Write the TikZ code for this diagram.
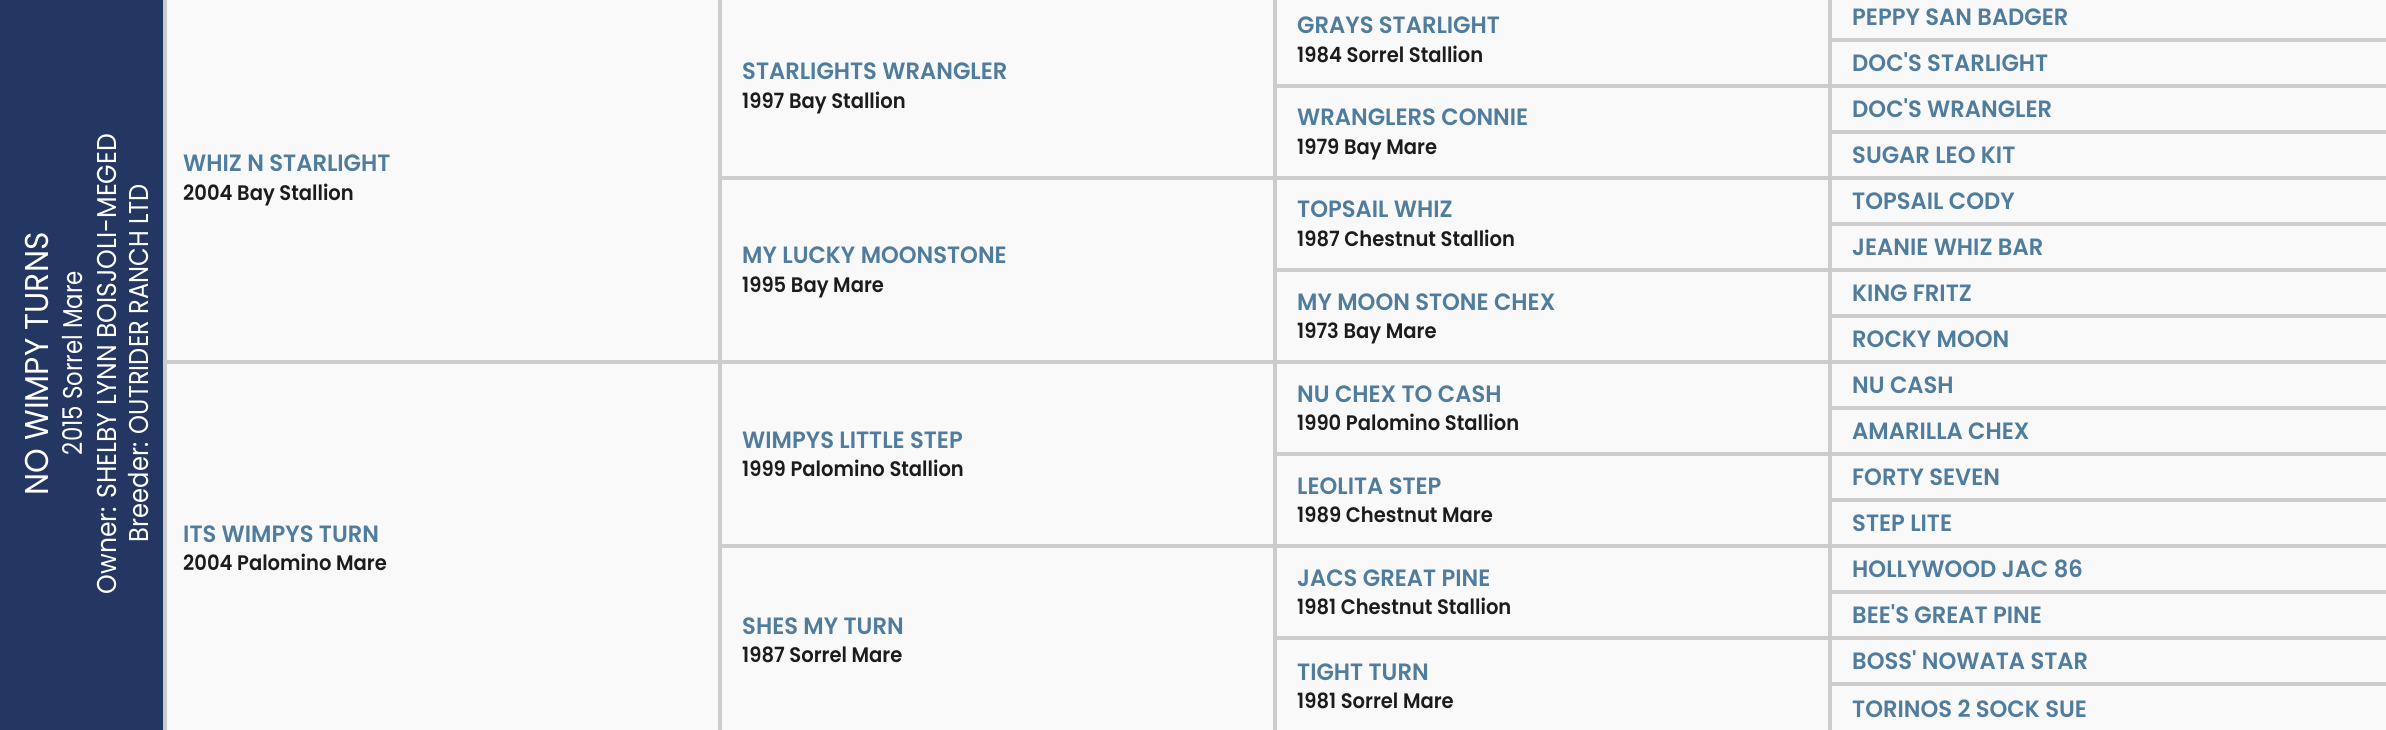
\documentclass[tikz,border=0pt]{standalone}
\usepackage{fontspec}
\usepackage{graphicx}
\setmainfont{Poppins}
\newfontfamily\pnamefont{Poppins SemiBold}[FakeStretch=0.96]
\newfontfamily\pdetfont{Poppins SemiBold}[FakeStretch=0.93]
\newfontfamily\ppanelfont{Poppins}
\usetikzlibrary{calc}
\definecolor{navy}{HTML}{243763}
\definecolor{namec}{HTML}{507D9E}
\definecolor{detc}{HTML}{1C1C1C}
\definecolor{gridc}{HTML}{CCCCCC}
\definecolor{cellbg}{HTML}{F9F9F9}
\tikzset{
  cellbox/.style={draw=gridc, line width=4pt, fill=cellbg, inner sep=0pt, outer sep=0pt},
  hname/.style={inner sep=0pt, anchor=base west, text=namec, font=\pnamefont\fontsize{23.6}{26}\selectfont},
  hdet/.style={inner sep=0pt, anchor=base west, text=detc, font=\pdetfont\fontsize{21}{24}\selectfont},
  ptitle/.style={inner sep=0pt, anchor=base, rotate=90, text=white, font=\ppanelfont\fontsize{33}{38}\selectfont},
  pline/.style={inner sep=0pt, anchor=base, rotate=90, text=white, font=\ppanelfont\fontsize{27.2}{31}\selectfont},
}
\newcommand{\pcgeom}[3]{%
  \pgfmathsetmacro{\pcxl}{165+555*(#1-1)}%
  \pgfmathsetmacro{\pcxr}{#1==4 ? 2400 : \pcxl+555}%
  \pgfmathsetmacro{\pcyt}{-6+46*#2}%
  \pgfmathsetmacro{\pcyb}{#3==16 ? 734 : -6+46*#3}%
  \pgfmathsetmacro{\pccw}{\pcxr-\pcxl}%
  \pgfmathsetmacro{\pcch}{\pcyb-\pcyt}%
  \pgfmathsetmacro{\pccx}{(\pcxl+\pcxr)/2}%
  \pgfmathsetmacro{\pccy}{(\pcyt+\pcyb)/2}%
  \pgfmathsetmacro{\pctx}{#1==1 ? 18 : 22}%
}
% #1 node name, #2 column, #3 first row, #4 last row, #5 horse, #6 details
\newcommand{\pedcell}[6]{%
  \pcgeom{#2}{#3}{#4}%
  \node[cellbox, minimum width=\pccw pt, minimum height=\pcch pt] (#1) at (\pccx,\pccy) {};
  \node[hname] (#1n) at ($(#1.west)+(\pctx,-6)$) {#5};
  \node[hdet] (#1d) at ($(#1.west)+(\pctx,22.5)$) {#6};
}
\newcommand{\leafcell}[4]{%
  \pcgeom{4}{#2}{#3}%
  \node[cellbox, minimum width=\pccw pt, minimum height=\pcch pt] (#1) at (\pccx,\pccy) {};
  \node[hname] (#1n) at ($(#1.west)+(\pctx,8.3)$) {#4};
}
\begin{document}
\begin{tikzpicture}[x=1pt, y=-1pt]
\useasboundingbox (0,0) rectangle (2386,730);
\clip (0,0) rectangle (2386,730);
% generation 1
\pedcell{a1}{1}{0}{8}{WHIZ N STARLIGHT}{2004 Bay Stallion}
\pedcell{a2}{1}{8}{16}{ITS WIMPYS TURN}{2004 Palomino Mare}
% generation 2
\pedcell{b1}{2}{0}{4}{STARLIGHTS WRANGLER}{1997 Bay Stallion}
\pedcell{b2}{2}{4}{8}{MY LUCKY MOONSTONE}{1995 Bay Mare}
\pedcell{b3}{2}{8}{12}{WIMPYS LITTLE STEP}{1999 Palomino Stallion}
\pedcell{b4}{2}{12}{16}{SHES MY TURN}{1987 Sorrel Mare}
% generation 3
\pedcell{c1}{3}{0}{2}{GRAYS STARLIGHT}{1984 Sorrel Stallion}
\pedcell{c2}{3}{2}{4}{WRANGLERS CONNIE}{1979 Bay Mare}
\pedcell{c3}{3}{4}{6}{TOPSAIL WHIZ}{1987 Chestnut Stallion}
\pedcell{c4}{3}{6}{8}{MY MOON STONE CHEX}{1973 Bay Mare}
\pedcell{c5}{3}{8}{10}{NU CHEX TO CASH}{1990 Palomino Stallion}
\pedcell{c6}{3}{10}{12}{LEOLITA STEP}{1989 Chestnut Mare}
\pedcell{c7}{3}{12}{14}{JACS GREAT PINE}{1981 Chestnut Stallion}
\pedcell{c8}{3}{14}{16}{TIGHT TURN}{1981 Sorrel Mare}
% generation 4
\leafcell{d1}{0}{1}{PEPPY SAN BADGER}
\leafcell{d2}{1}{2}{DOC'S STARLIGHT}
\leafcell{d3}{2}{3}{DOC'S WRANGLER}
\leafcell{d4}{3}{4}{SUGAR LEO KIT}
\leafcell{d5}{4}{5}{TOPSAIL CODY}
\leafcell{d6}{5}{6}{JEANIE WHIZ BAR}
\leafcell{d7}{6}{7}{KING FRITZ}
\leafcell{d8}{7}{8}{ROCKY MOON}
\leafcell{d9}{8}{9}{NU CASH}
\leafcell{d10}{9}{10}{AMARILLA CHEX}
\leafcell{d11}{10}{11}{FORTY SEVEN}
\leafcell{d12}{11}{12}{STEP LITE}
\leafcell{d13}{12}{13}{HOLLYWOOD JAC 86}
\leafcell{d14}{13}{14}{BEE'S GREAT PINE}
\leafcell{d15}{14}{15}{BOSS' NOWATA STAR}
\leafcell{d16}{15}{16}{TORINOS 2 SOCK SUE}
% subject panel
\node[fill=navy, draw=none, inner sep=0pt, outer sep=0pt, minimum width=163pt, minimum height=730pt, anchor=north west] (panel) at (0,0) {};
\node[ptitle] (ttl) at (48,364) {\resizebox{263pt}{\height}{NO WIMPY TURNS}};
\node[pline] (sub) at (82,363) {\resizebox{184pt}{\height}{2015 Sorrel Mare}};
\node[pline] (own) at (116,364) {\resizebox{460pt}{\height}{Owner: SHELBY LYNN BOISJOLI-MEGED}};
\node[pline] (brd) at (148,363) {\resizebox{358pt}{\height}{Breeder: OUTRIDER RANCH LTD}};
\end{tikzpicture}
\end{document}
